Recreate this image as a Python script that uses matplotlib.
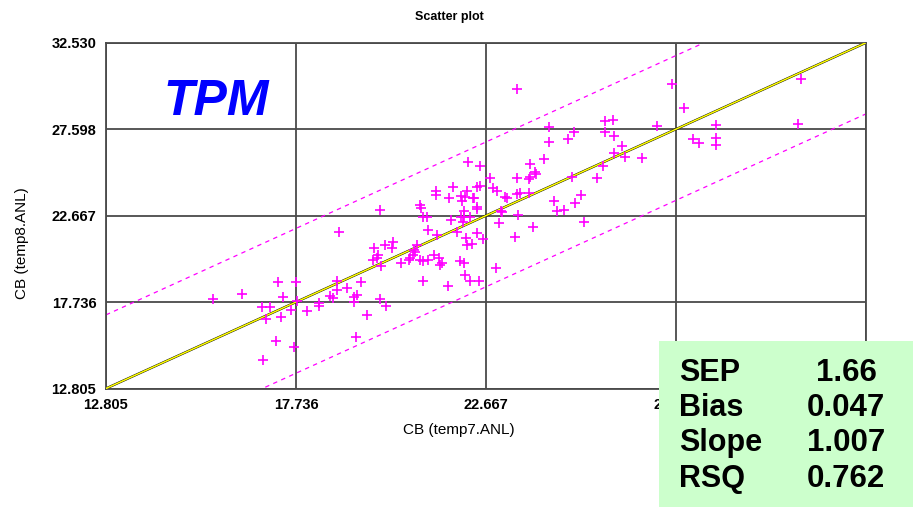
import matplotlib
matplotlib.use("Agg")
import matplotlib.pyplot as plt
from matplotlib.patches import Rectangle

# ---- data ----
tick_values = [12.805, 17.736, 22.667, 27.598, 32.530]
axis_min, axis_max = 12.805, 32.530

x_vals = [15.58, 16.33, 16.88, 16.85, 17.06, 16.96, 17.22, 17.27, 17.35, 17.40,
          17.61, 17.68, 17.74, 17.76, 18.02, 18.33, 18.33, 18.62, 18.70, 18.80,
          18.80, 19.06, 19.24, 19.24, 19.32, 19.42, 19.29, 19.58, 19.92, 20.07,
          18.85, 19.92, 19.76, 20.05, 20.25, 20.23, 19.86, 19.84, 19.73, 19.94,
          20.46, 20.70, 20.77, 20.80, 20.88, 20.82, 20.67, 20.95, 21.03, 21.16,
          21.32, 21.45, 21.47, 21.53, 21.03, 21.68, 21.99, 22.10, 22.12, 22.25,
          22.49, 22.93, 21.16, 21.40, 21.91, 22.15, 22.17, 22.30, 22.43, 22.59,
          20.95, 20.98, 21.03, 21.14, 21.37, 21.37, 21.81, 21.71, 22.17, 22.02,
          22.12, 22.04, 22.33, 22.43, 22.43, 22.10, 22.02, 22.10, 22.25, 21.76,
          22.07, 22.20, 22.51, 22.77, 22.51, 22.85, 22.95, 23.16, 23.21, 23.47,
          23.55, 23.78, 22.36, 22.43, 23.06, 23.08, 23.50, 23.00, 23.89, 23.42,
          23.47, 23.47, 23.78, 23.81, 23.81, 24.17, 23.94, 23.97, 24.30, 24.30,
          24.80, 24.95, 25.76, 25.96, 25.76, 25.99, 25.99, 25.70, 25.55, 24.90,
          25.13, 24.98, 24.43, 24.51, 24.69, 25.21, 26.20, 26.28, 26.72, 27.11,
          27.49, 27.81, 28.04, 28.20, 28.64, 28.64, 28.64, 30.76, 30.84]

y_vals = [17.91, 18.19, 14.43, 17.45, 17.45, 16.77, 15.51, 18.88, 16.88, 18.02,
          17.28, 15.17, 18.88, 17.79, 17.22, 17.68, 17.51, 18.08, 17.96, 18.93,
          18.42, 18.53, 18.02, 17.74, 18.14, 18.88, 15.74, 17.00, 17.91, 17.51,
          21.73, 22.98, 20.81, 20.99, 21.16, 20.81, 20.42, 20.24, 20.13, 19.79,
          19.96, 20.24, 20.42, 20.70, 20.99, 20.59, 20.13, 20.13, 20.07, 20.13,
          20.42, 20.24, 19.85, 19.96, 18.93, 18.65, 20.07, 19.96, 19.28, 18.93,
          18.93, 19.67, 21.84, 21.56, 21.73, 21.38, 20.99, 21.04, 21.67, 21.33,
          23.27, 23.10, 22.58, 22.58, 24.06, 23.84, 24.29, 23.66, 24.06, 23.78,
          23.72, 23.49, 23.66, 24.29, 23.15, 22.92, 22.58, 22.58, 22.58, 22.41,
          22.30, 25.72, 25.49, 24.80, 24.35, 24.23, 24.06, 23.72, 23.66, 23.89,
          23.95, 23.95, 23.66, 23.04, 22.92, 22.87, 22.70, 22.24, 22.01, 21.44,
          29.88, 24.80, 24.75, 24.86, 25.60, 25.89, 25.15, 25.03, 27.71, 26.86,
          27.03, 27.43, 28.05, 28.11, 27.43, 27.20, 26.23, 25.49, 24.80, 24.86,
          23.84, 23.38, 23.49, 22.92, 22.98, 22.30, 26.63, 26.00, 25.95, 27.77,
          30.16, 28.80, 27.03, 26.80, 27.83, 27.09, 26.69, 27.88, 30.45]

band_upper = 4.20
band_lower = 4.06

stat_names = ["SEP", "Bias", "Slope", "RSQ"]
stat_values = ["1.66", "0.047", "1.007", "0.762"]

title = "Scatter plot"
x_label = "CB (temp7.ANL)"
y_label = "CB (temp8.ANL)"
big_label = "TPM"

# ---- figure ----
W, H = 913, 507
fig = plt.figure(figsize=(W / 100, H / 100), dpi=100)
fig.patch.set_facecolor("white")

ax_l, ax_r, ax_t, ax_b = 106, 866, 42.7, 388.5
ax = fig.add_axes([ax_l / W, 1 - ax_b / H, (ax_r - ax_l) / W, (ax_b - ax_t) / H])
ax.set_xlim(axis_min, axis_max)
ax.set_ylim(axis_min, axis_max)

grid_col = "#4a4a4a"
for v in tick_values:
    ax.axvline(v, color=grid_col, lw=1.3, zorder=1)
    ax.axhline(v, color=grid_col, lw=1.3, zorder=1)
for s in ax.spines.values():
    s.set_color(grid_col)
    s.set_linewidth(1.3)

# x labels: the last one lies fully under the stats box in the reference
ax.set_xticks(tick_values[:-1])
ax.set_yticks(tick_values)
ax.set_xticklabels([f"{v:.3f}" for v in tick_values[:-1]])
ax.set_yticklabels([f"{v:.3f}" for v in tick_values])
ax.tick_params(length=0, pad=7, labelsize=10.5)
for lab in ax.get_xticklabels() + ax.get_yticklabels():
    lab.set_fontfamily("Liberation Sans")
    lab.set_fontweight("bold")

# identity / fit lines
line = [axis_min, axis_max]
ax.plot(line, line, color="black", lw=1.7, zorder=2)
ax.plot(line, line, color="#ffff00", lw=1.1, zorder=3)
ax.plot(line, [v + band_upper for v in line], color="#ff00ff", lw=0.9,
        dashes=(3.5, 3.5), zorder=2)
ax.plot(line, [v - band_lower for v in line], color="#ff00ff", lw=0.9,
        dashes=(3.5, 3.5), zorder=2)

ax.scatter(x_vals, y_vals, marker="+", s=55, color="#ff00ff", linewidths=1.2,
           zorder=4)

# texts
fig.text(449 / W, 1 - 17 / H, title, ha="center", va="center",
         fontsize=9, fontweight="bold", family="Liberation Sans")
fig.text(459 / W, 1 - 430 / H, x_label, ha="center", va="center",
         fontsize=11, family="Liberation Sans")
fig.text(22 / W, 1 - 243 / H, y_label, ha="center", va="center",
         rotation=90, fontsize=11, family="Liberation Sans")
fig.text(163 / W, 1 - 115 / H, big_label, ha="left", va="baseline",
         fontsize=36, fontweight="bold", fontstyle="italic", color="#0000ff",
         family="Liberation Sans")

# stats box
box = Rectangle((659 / W, 0), (W - 659) / W, (H - 341) / H,
                transform=fig.transFigure, facecolor="#ccffcc",
                edgecolor="none", zorder=10)
fig.patches.append(box)
baselines = [381, 416, 451, 487]
for name, val, b in zip(stat_names, stat_values, baselines):
    fig.text(679 / W, 1 - b / H, name, ha="left", va="baseline",
             fontsize=22, fontweight="bold", family="Liberation Sans", zorder=11)
    fig.text(846 / W, 1 - b / H, val, ha="center", va="baseline",
             fontsize=22.5, fontweight="bold", family="Liberation Sans", zorder=11)

fig.savefig("out.png", dpi=100)
